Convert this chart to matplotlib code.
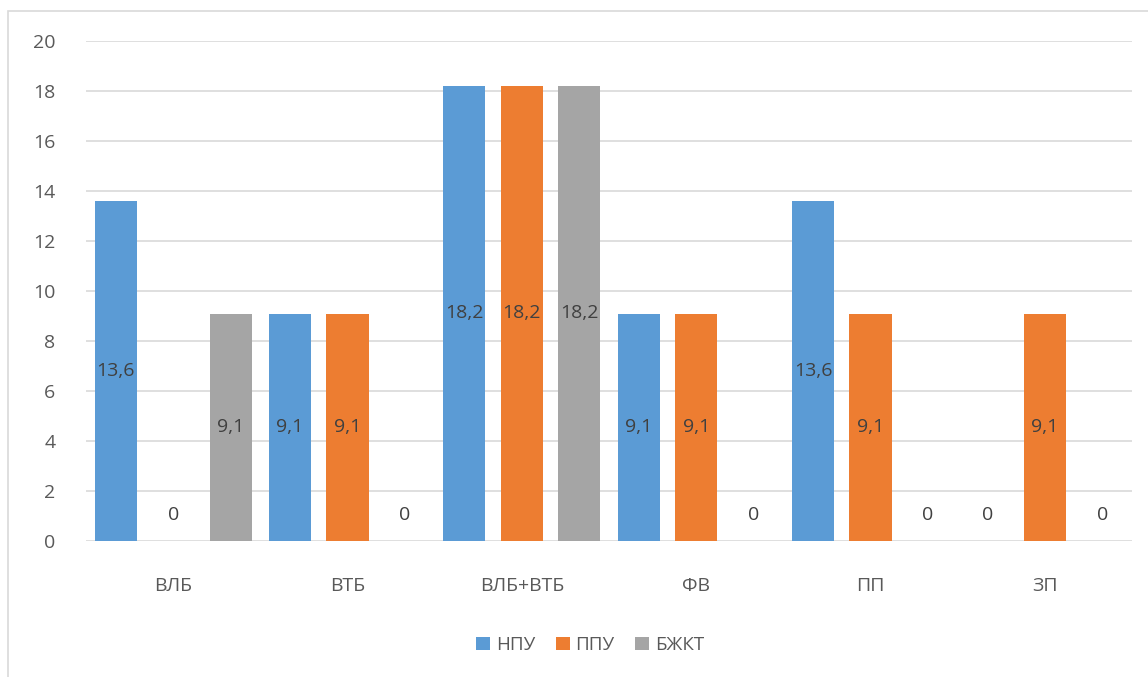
import matplotlib.pyplot as plt
import numpy as np
from matplotlib.patches import Rectangle

categories = ["ВЛБ", "ВТБ", "ВЛБ+ВТБ", "ФВ", "ПП", "ЗП"]
series_names = ["НПУ", "ППУ", "БЖКТ"]
npu = [13.6, 9.1, 18.2, 9.1, 13.6, 0]
ppu = [0, 9.1, 18.2, 9.1, 9.1, 9.1]
bzhkt = [9.1, 0, 18.2, 0, 0, 0]
y_ticks = [0, 2, 4, 6, 8, 10, 12, 14, 16, 18, 20]

colors = ["#5B9BD5", "#ED7D31", "#A5A5A5"]
text_color = "#595959"
fs = 14

plt.rcParams["font.family"] = ["Open Sans", "DejaVu Sans"]

fig = plt.figure(figsize=(11.48, 6.77), dpi=100)
fig.patches.append(Rectangle((8 / 1148, -0.01), 1.1, 1 - 11 / 677 + 0.01,
                             transform=fig.transFigure, fill=False,
                             edgecolor="#D9D9D9", linewidth=1.2))
ax = fig.add_axes([86 / 1148, 1 - 541 / 677, (1132 - 86) / 1148, 500 / 677])

x = np.arange(len(categories))
step = 0.33
width = 0.241
for i, (name, vals) in enumerate(zip(series_names, [npu, ppu, bzhkt])):
    pos = x + (i - 1) * step
    ax.bar(pos, vals, width=width, color=colors[i], label=name, zorder=2)
    for px, v in zip(pos, vals):
        label = f"{v:g}".replace(".", ",")
        if v > 0:
            ax.text(px, v / 2, label, ha="center", va="center",
                    fontsize=fs, color="#404040")
        else:
            ax.annotate(label, (px, 0), xytext=(0, 26), textcoords="offset pixels",
                        ha="center", va="center", fontsize=fs, color="#404040")

ax.set_xlim(-0.5, len(categories) - 0.5)
ax.set_ylim(0, 20)
ax.set_yticks(y_ticks)
ax.set_xticks(x)
ax.set_xticklabels(categories)
ax.grid(axis="y", color="#D9D9D9", linewidth=1.2, zorder=0)
ax.set_axisbelow(True)
for s in ax.spines.values():
    s.set_visible(False)
ax.tick_params(axis="both", length=0, labelsize=fs, colors=text_color)
ax.tick_params(axis="x", pad=26)
ax.tick_params(axis="y", pad=22)

fig.legend(loc="center", bbox_to_anchor=(590 / 1148, 1 - 645 / 677), ncol=3,
           frameon=False, fontsize=13.5, labelcolor=text_color,
           handlelength=0.75, handleheight=0.75, handletextpad=0.3, columnspacing=1.1)

fig.savefig("out.png", dpi=100)
